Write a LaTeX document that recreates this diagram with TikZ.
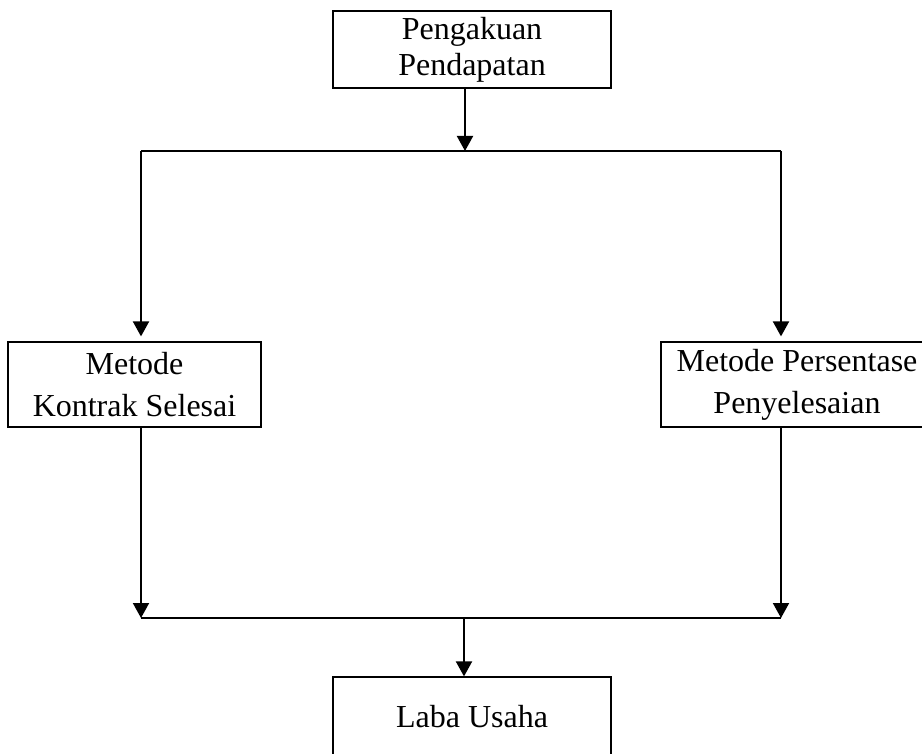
\documentclass[tikz,border=0pt]{standalone}
\usepackage{fontspec}
\setmainfont{Liberation Serif}
\usetikzlibrary{arrows.meta}
\usetikzlibrary{positioning}
\tikzset{
  kotak/.style={draw, line width=1.2pt, inner sep=0pt, align=center,
    font=\fontsize{32}{42}\selectfont},
  panah/.style={line width=2pt, -{Triangle[width=16pt,length=15pt]}},
  garis/.style={line width=2pt}
}
\begin{document}
\begin{tikzpicture}[x=1pt, y=-1pt]
      \useasboundingbox (0, 0) rectangle (922, 754);
      \node[kotak, minimum width=278pt, minimum height=77pt, font=\fontsize{32}{36}\selectfont] (pengakuan) at (472, 49.5) {Pengakuan\\Pendapatan};
      \node[kotak, minimum width=253pt, minimum height=85pt] (kontrak) at (134.5, 384.5) {Metode\\Kontrak Selesai};
      \node[kotak, minimum width=272pt, minimum height=85pt] (persentase) at (797, 384.5) {Metode Persentase\\Penyelesaian};
      \node[kotak, minimum width=278pt, minimum height=80pt] (laba) at (472, 717) {Laba Usaha};
      \coordinate (cabang) at (465, 151);
      \coordinate (cabangkiri) at (141, 151);
      \coordinate (cabangkanan) at (781, 151);
      \coordinate (gabung) at (464, 618);
      \coordinate (gabungkiri) at (141, 618);
      \coordinate (gabungkanan) at (781, 618);
      \draw[panah] (pengakuan.south -| cabang) -- (cabang);
      \draw[garis] (cabangkiri) -- (cabangkanan);
      \draw[panah, shorten >=5pt] (cabangkiri) -- (kontrak.north -| cabangkiri);
      \draw[panah, shorten >=5pt] (cabangkanan) -- (persentase.north -| cabangkanan);
      \draw[panah] (kontrak.south -| gabungkiri) -- (gabungkiri);
      \draw[panah] (persentase.south -| gabungkanan) -- (gabungkanan);
      \draw[garis] (gabungkiri) -- (gabungkanan);
      \draw[panah] (gabung) -- (laba.north -| gabung);
    \end{tikzpicture}
\end{document}
